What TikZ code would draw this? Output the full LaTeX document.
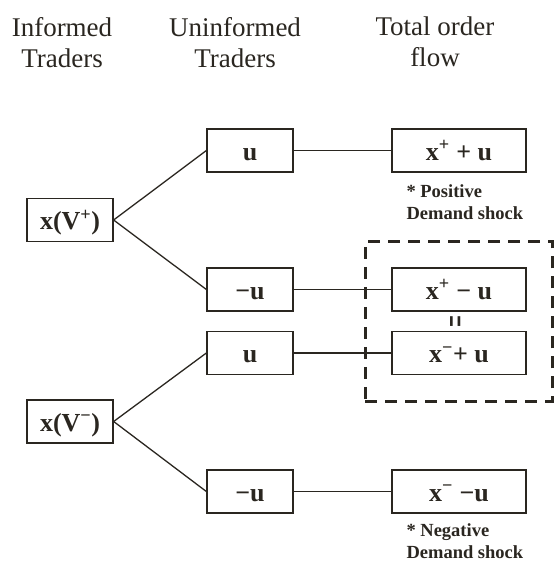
\documentclass[tikz,border=0pt]{standalone}
\usepackage{fontspec}
\setmainfont{Liberation Serif}
\usetikzlibrary{positioning,fit}
\definecolor{ink}{RGB}{42,38,32}
\tikzset{bx/.style={draw=ink,line width=1.3pt,minimum width=86pt,minimum height=43pt,inner sep=0pt,text height=30pt,text depth=11pt,font=\fontsize{26}{28}\selectfont\bfseries,text=ink},
 wb/.style={bx,minimum width=134pt},
 hd/.style={align=center,anchor=north,inner sep=0pt,font=\fontsize{27}{31}\selectfont,text=ink},
 nt/.style={align=left,inner sep=0pt,font=\fontsize{18.5}{22}\selectfont\bfseries,text=ink},
 ln/.style={draw=ink,line width=1.3pt},
 dbox/.style={draw=ink,line width=3pt,dash pattern=on 12pt off 8pt,inner sep=26pt}}
\begin{document}
\begin{tikzpicture}[x=1pt,y=-1pt]
\useasboundingbox (0,0) rectangle (556,563);
% column heads
\node[hd](h1)at(62,17){Informed\\Traders};\node[hd](h2)at(235,17){Uninformed\\Traders};\node[hd](h3)at(435,17){Total order\\flow};
% informed
\node[bx](vp)at(70,220){x(V\textsuperscript{+})};\node[bx](vm)at(70,421.5){x(V\textsuperscript{−})};
% uninformed
\node[bx](ua)at(250,150.5){u};\node[bx](ma)at(250,289.5){−u};
\node[bx](ub)at(250,353){u};\node[bx](mb)at(250,491.5){−u};
% order flow
\node[wb](pp)at(459,150.5){x\textsuperscript{+} + u};\node[wb](pm)at(459,289.5){x\textsuperscript{+} − u};
\node[wb](np)at(459,353){x\textsuperscript{−}+ u};\node[wb](nm)at(459,491.5){x\textsuperscript{−} −u};
\node[nt,below right=12pt and 15pt of pp.south west](n1){* Positive\\Demand shock};
\node[nt,below right=10pt and 15pt of nm.south west](n2){* Negative\\Demand shock};
\node[dbox,fit=(pm)(np)](eqbox){};\node[text=ink,rotate=90,xscale=1.05,yscale=1.9,font=\fontsize{20}{20}\selectfont\bfseries](eq)at(459,322){=};
\draw[ln](vp.east)--(ua.west);\draw[ln](vp.east)--(ma.west);\draw[ln](vm.east)--(ub.west);\draw[ln](vm.east)--(mb.west);
\draw[ln](ua)--(pp);\draw[ln](ma)--(pm);\draw[ln](ub)--(np);\draw[ln](mb)--(nm);
\end{tikzpicture}
\end{document}
